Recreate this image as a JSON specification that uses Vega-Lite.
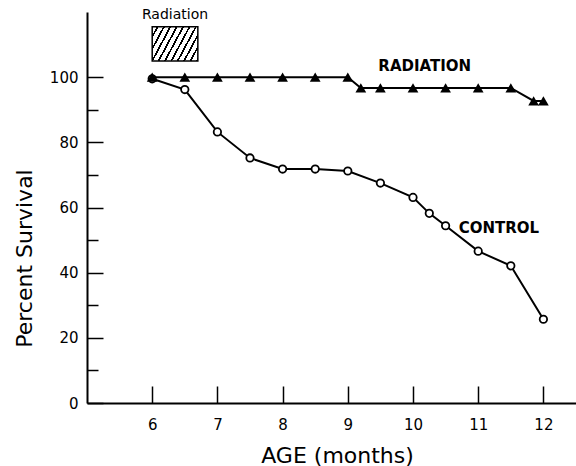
{
  "$schema": "https://vega.github.io/schema/vega-lite/v6.json",
  "width": 489,
  "height": 391,
  "autosize": {"type": "none"},
  "padding": {"left": 87, "top": 12, "right": 0, "bottom": 63},
  "background": "white",
  "config": {
    "view": {"stroke": null},
    "font": "DejaVu Sans",
    "axis": {
      "grid": false,
      "domainColor": "black",
      "domainWidth": 2,
      "tickColor": "black",
      "tickWidth": 1.5,
      "labelColor": "black",
      "titleColor": "black",
      "labelFont": "DejaVu Sans",
      "titleFont": "DejaVu Sans",
      "titleFontWeight": "normal"
    }
  },
  "datasets": {
    "survival": [
      {"group": "Control", "month": 6, "pct": 99.5},
      {"group": "Control", "month": 6.5, "pct": 96.2},
      {"group": "Control", "month": 7, "pct": 83.2},
      {"group": "Control", "month": 7.5, "pct": 75.2},
      {"group": "Control", "month": 8, "pct": 71.8},
      {"group": "Control", "month": 8.5, "pct": 71.8},
      {"group": "Control", "month": 9, "pct": 71.2},
      {"group": "Control", "month": 9.5, "pct": 67.5},
      {"group": "Control", "month": 10, "pct": 63.1},
      {"group": "Control", "month": 10.25, "pct": 58.2},
      {"group": "Control", "month": 10.5, "pct": 54.4},
      {"group": "Control", "month": 11, "pct": 46.6},
      {"group": "Control", "month": 11.5, "pct": 42.1},
      {"group": "Control", "month": 12, "pct": 25.7},
      {"group": "Radiation", "month": 6, "pct": 100},
      {"group": "Radiation", "month": 6.5, "pct": 100},
      {"group": "Radiation", "month": 7, "pct": 100},
      {"group": "Radiation", "month": 7.5, "pct": 100},
      {"group": "Radiation", "month": 8, "pct": 100},
      {"group": "Radiation", "month": 8.5, "pct": 100},
      {"group": "Radiation", "month": 9, "pct": 100},
      {"group": "Radiation", "month": 9.2, "pct": 96.7},
      {"group": "Radiation", "month": 9.5, "pct": 96.7},
      {"group": "Radiation", "month": 10, "pct": 96.7},
      {"group": "Radiation", "month": 10.5, "pct": 96.7},
      {"group": "Radiation", "month": 11, "pct": 96.7},
      {"group": "Radiation", "month": 11.5, "pct": 96.7},
      {"group": "Radiation", "month": 11.85, "pct": 92.7},
      {"group": "Radiation", "month": 12, "pct": 92.7}
    ],
    "period": [
      {"month": 6, "month2": 6.7, "pct": 105, "pct2": 115.5}
    ],
    "labels": [
      {"kind": "period", "month": 6.35, "pct": 119, "text": "Radiation"},
      {"kind": "series", "month": 10.18, "pct": 103.5, "text": "RADIATION"},
      {"kind": "control", "month": 10.7, "pct": 53.8, "text": "CONTROL"}
    ]
  },
  "layer": [
    {
      "encoding": {
        "x": {
          "field": "month",
          "type": "quantitative",
          "scale": {"domain": [5, 12.5], "nice": false, "zero": false},
          "axis": {
            "values": [6, 7, 8, 9, 10, 11, 12],
            "tickSize": -17,
            "labelFontSize": 15,
            "labelPadding": 31,
            "title": "AGE (months)",
            "titleFontSize": 22,
            "titleX": 250,
            "titleY": 52,
            "titleBaseline": "middle",
            "titleAlign": "center"
          }
        },
        "y": {
          "field": "pct",
          "type": "quantitative",
          "scale": {"domain": [0, 120], "nice": false},
          "axis": {
            "values": [0, 20, 40, 60, 80, 100],
            "tickSize": -16,
            "labelFontSize": 15,
            "labelPadding": 25,
            "title": "Percent Survival",
            "titleFontSize": 22,
            "titleAngle": -90,
            "titleX": -63,
            "titleY": 246,
            "titleAlign": "center",
            "titleBaseline": "middle"
          }
        }
      },
      "layer": [
        {
          "data": {"name": "period"},
          "mark": {
            "type": "rect",
            "stroke": "black",
            "strokeWidth": 1.5,
            "fill": {
              "gradient": "linear",
              "x1": 0, "y1": 0, "x2": 1.207, "y2": 0.483,
              "stops": [
                {"offset": 0, "color": "white"}, {"offset": 0.07, "color": "white"},
                {"offset": 0.07, "color": "black"}, {"offset": 0.1, "color": "black"},
                {"offset": 0.1, "color": "white"}, {"offset": 0.17, "color": "white"},
                {"offset": 0.17, "color": "black"}, {"offset": 0.2, "color": "black"},
                {"offset": 0.2, "color": "white"}, {"offset": 0.27, "color": "white"},
                {"offset": 0.27, "color": "black"}, {"offset": 0.3, "color": "black"},
                {"offset": 0.3, "color": "white"}, {"offset": 0.37, "color": "white"},
                {"offset": 0.37, "color": "black"}, {"offset": 0.4, "color": "black"},
                {"offset": 0.4, "color": "white"}, {"offset": 0.47, "color": "white"},
                {"offset": 0.47, "color": "black"}, {"offset": 0.5, "color": "black"},
                {"offset": 0.5, "color": "white"}, {"offset": 0.57, "color": "white"},
                {"offset": 0.57, "color": "black"}, {"offset": 0.6, "color": "black"},
                {"offset": 0.6, "color": "white"}, {"offset": 0.67, "color": "white"},
                {"offset": 0.67, "color": "black"}, {"offset": 0.7, "color": "black"},
                {"offset": 0.7, "color": "white"}, {"offset": 0.77, "color": "white"},
                {"offset": 0.77, "color": "black"}, {"offset": 0.8, "color": "black"},
                {"offset": 0.8, "color": "white"}, {"offset": 0.87, "color": "white"},
                {"offset": 0.87, "color": "black"}, {"offset": 0.9, "color": "black"},
                {"offset": 0.9, "color": "white"}, {"offset": 0.97, "color": "white"},
                {"offset": 0.97, "color": "black"}, {"offset": 1, "color": "black"}
              ]
            }
          },
          "encoding": {
            "x2": {"field": "month2"},
            "y2": {"field": "pct2"}
          }
        },
        {
          "data": {"name": "labels"},
          "transform": [{"filter": "datum.kind === 'period'"}],
          "mark": {"type": "text", "fontSize": 14, "align": "center", "baseline": "middle", "color": "black"},
          "encoding": {"text": {"field": "text"}}
        },
        {
          "data": {"name": "labels"},
          "transform": [{"filter": "datum.kind === 'series'"}],
          "mark": {"type": "text", "fontSize": 15, "fontWeight": "bold", "align": "center", "baseline": "middle", "color": "black"},
          "encoding": {"text": {"field": "text"}}
        },
        {
          "data": {"name": "labels"},
          "transform": [{"filter": "datum.kind === 'control'"}],
          "mark": {"type": "text", "fontSize": 15, "fontWeight": "bold", "align": "left", "baseline": "middle", "color": "black"},
          "encoding": {"text": {"field": "text"}}
        },
        {
          "data": {"name": "survival"},
          "transform": [{"filter": "datum.group === 'Control'"}],
          "mark": {"type": "line", "color": "black", "strokeWidth": 2},
          "encoding": {}
        },
        {
          "data": {"name": "survival"},
          "transform": [{"filter": "datum.group === 'Control'"}],
          "mark": {"type": "point", "shape": "circle", "filled": true, "fill": "white", "stroke": "black", "strokeWidth": 1.8, "size": 55, "opacity": 1},
          "encoding": {}
        },
        {
          "data": {"name": "survival"},
          "transform": [{"filter": "datum.group === 'Radiation'"}],
          "mark": {"type": "line", "color": "black", "strokeWidth": 2},
          "encoding": {}
        },
        {
          "data": {"name": "survival"},
          "transform": [{"filter": "datum.group === 'Radiation'"}],
          "mark": {"type": "point", "shape": "triangle-up", "filled": true, "color": "black", "size": 115, "opacity": 1},
          "encoding": {}
        }
      ]
    },
    {
      "data": {"name": "survival"},
      "mark": {"type": "text", "text": ""},
      "encoding": {
        "y": {
          "field": "pct",
          "type": "quantitative",
          "scale": {"domain": [0, 120], "nice": false},
          "axis": {
            "orient": "left",
            "values": [10, 30, 50, 70, 90],
            "labels": false,
            "domain": false,
            "tickSize": -11,
            "title": null
          }
        }
      }
    }
  ],
  "resolve": {"axis": {"y": "independent"}}
}
